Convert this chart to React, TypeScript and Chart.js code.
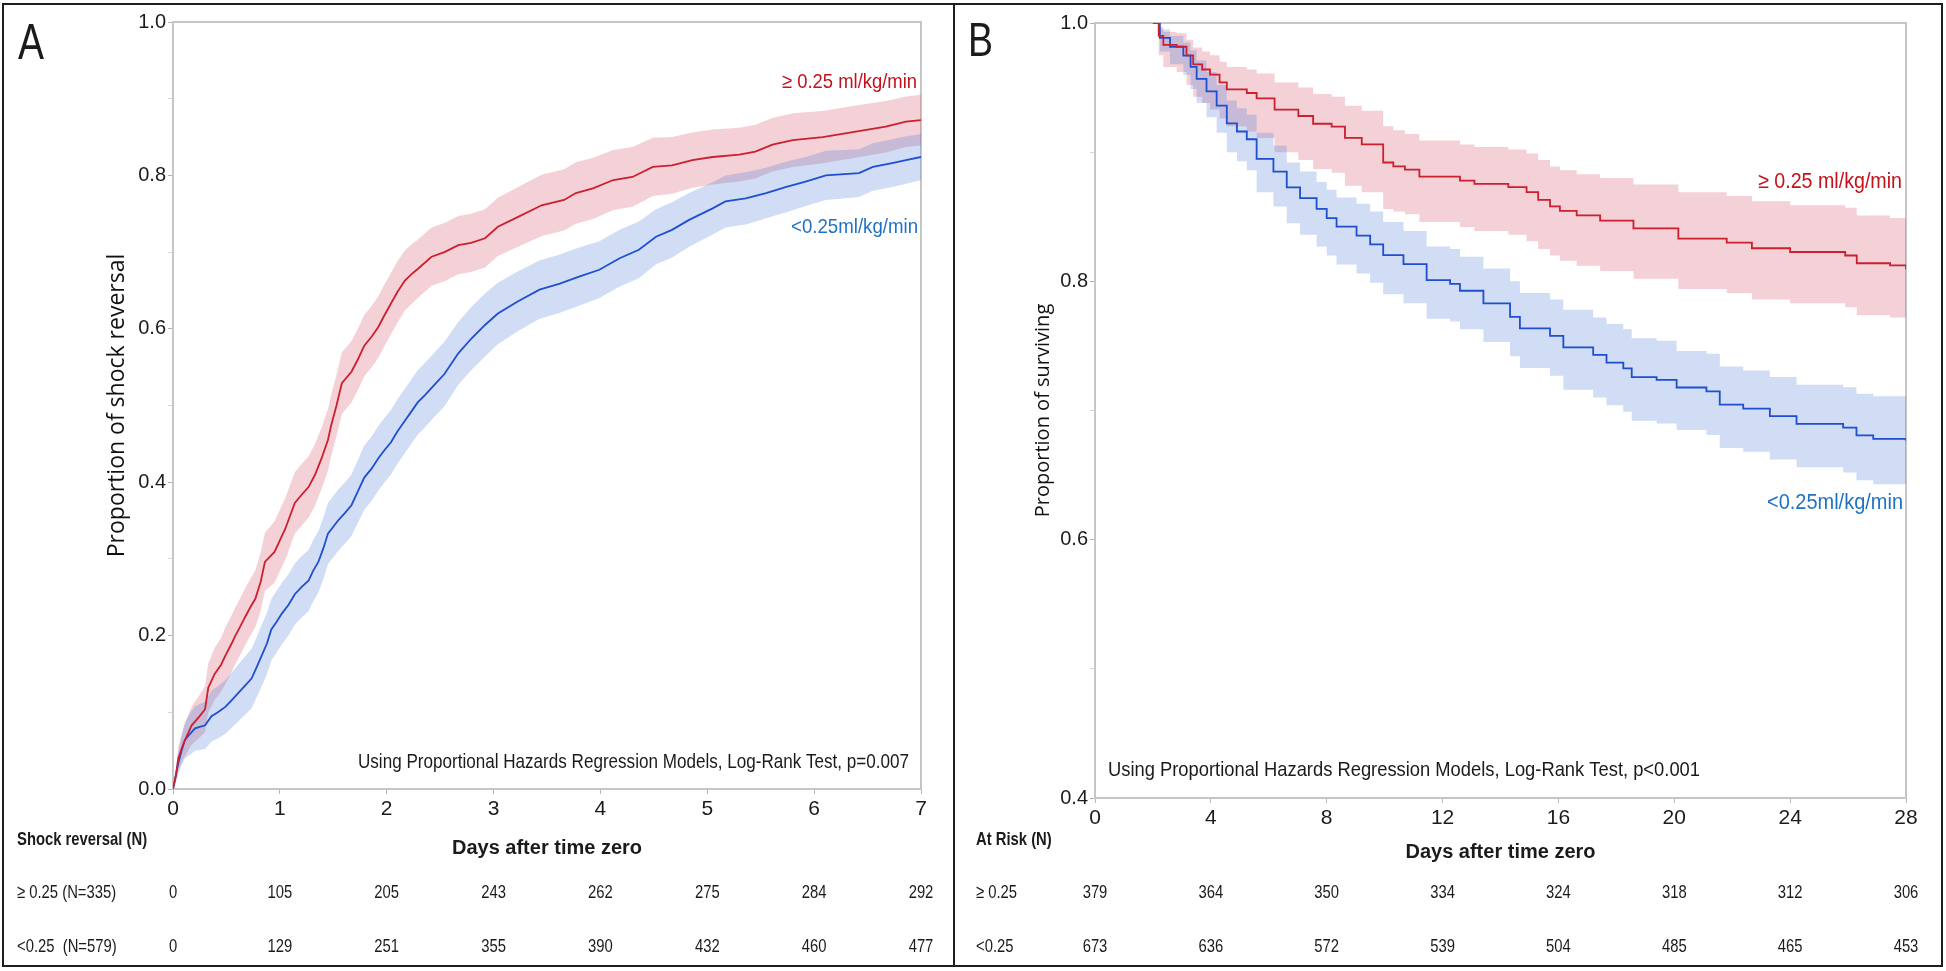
import React, { useEffect, useRef } from "react";
import { Chart, registerables } from "chart.js";

Chart.register(...registerables);

// ---------- Panel A: cumulative shock reversal (days 0-7) ----------
const A_RED_T = [0, 0.03, 0.05, 0.1, 0.175, 0.25, 0.3, 0.33, 0.39, 0.45, 0.49, 0.55, 0.58, 0.63, 0.67, 0.72, 0.77, 0.82, 0.86, 0.95, 1.05, 1.14, 1.2, 1.27, 1.33, 1.39, 1.45, 1.48, 1.53, 1.58, 1.67, 1.73, 1.79, 1.86, 1.92, 1.98, 2.04, 2.1, 2.17, 2.23, 2.29, 2.42, 2.54, 2.67, 2.79, 2.92, 3.04, 3.23, 3.45, 3.66, 3.77, 3.93, 4.12, 4.3, 4.49, 4.67, 4.86, 5.05, 5.3, 5.45, 5.61, 5.8, 6.08, 6.39, 6.67, 6.86, 7.0];
const A_RED_S = [0, 0.02, 0.04, 0.06, 0.083, 0.095, 0.104, 0.132, 0.15, 0.162, 0.174, 0.19, 0.199, 0.212, 0.223, 0.236, 0.248, 0.27, 0.296, 0.309, 0.339, 0.373, 0.383, 0.394, 0.41, 0.431, 0.455, 0.474, 0.5, 0.529, 0.544, 0.56, 0.578, 0.59, 0.602, 0.618, 0.633, 0.648, 0.663, 0.671, 0.678, 0.694, 0.7, 0.709, 0.712, 0.718, 0.733, 0.746, 0.761, 0.768, 0.777, 0.783, 0.794, 0.798, 0.811, 0.813, 0.82, 0.824, 0.827, 0.831, 0.84, 0.846, 0.85, 0.857, 0.8635, 0.87, 0.872];
const A_RED_LO = [0, 0.01, 0.025, 0.04, 0.058, 0.067, 0.074, 0.1, 0.116, 0.127, 0.137, 0.153, 0.162, 0.175, 0.186, 0.199, 0.211, 0.232, 0.258, 0.269, 0.299, 0.333, 0.343, 0.354, 0.37, 0.391, 0.415, 0.434, 0.46, 0.489, 0.504, 0.52, 0.538, 0.55, 0.562, 0.578, 0.593, 0.608, 0.624, 0.632, 0.64, 0.656, 0.662, 0.671, 0.674, 0.68, 0.695, 0.707, 0.721, 0.728, 0.737, 0.743, 0.755, 0.759, 0.773, 0.776, 0.784, 0.788, 0.792, 0.796, 0.805, 0.811, 0.816, 0.823, 0.83, 0.837, 0.839];
const A_RED_HI = [0, 0.03, 0.055, 0.08, 0.108, 0.123, 0.134, 0.164, 0.184, 0.197, 0.211, 0.227, 0.236, 0.249, 0.26, 0.273, 0.285, 0.308, 0.334, 0.349, 0.379, 0.413, 0.423, 0.434, 0.45, 0.471, 0.495, 0.514, 0.54, 0.569, 0.584, 0.6, 0.618, 0.63, 0.642, 0.658, 0.673, 0.688, 0.702, 0.71, 0.716, 0.732, 0.738, 0.747, 0.75, 0.756, 0.771, 0.785, 0.801, 0.808, 0.817, 0.823, 0.833, 0.837, 0.849, 0.85, 0.856, 0.86, 0.862, 0.866, 0.875, 0.881, 0.884, 0.891, 0.897, 0.903, 0.905];

const A_BLUE_T = [0, 0.03, 0.05, 0.08, 0.112, 0.16, 0.206, 0.3, 0.36, 0.42, 0.49, 0.55, 0.61, 0.67, 0.735, 0.78, 0.83, 0.88, 0.92, 0.97, 1.02, 1.08, 1.14, 1.2, 1.27, 1.31, 1.36, 1.41, 1.45, 1.5, 1.55, 1.61, 1.67, 1.73, 1.79, 1.86, 1.92, 1.98, 2.04, 2.1, 2.17, 2.23, 2.29, 2.36, 2.42, 2.54, 2.67, 2.79, 2.92, 3.04, 3.23, 3.43, 3.62, 3.8, 3.99, 4.18, 4.36, 4.52, 4.67, 4.83, 5.05, 5.17, 5.36, 5.55, 5.74, 5.92, 6.11, 6.42, 6.55, 6.73, 6.86, 7.0];
const A_BLUE_S = [0, 0.02, 0.034, 0.05, 0.064, 0.072, 0.079, 0.083, 0.095, 0.1, 0.107, 0.116, 0.125, 0.134, 0.144, 0.158, 0.174, 0.19, 0.208, 0.218, 0.229, 0.24, 0.254, 0.263, 0.272, 0.284, 0.296, 0.315, 0.333, 0.342, 0.351, 0.36, 0.37, 0.388, 0.406, 0.418, 0.431, 0.442, 0.452, 0.466, 0.48, 0.492, 0.504, 0.514, 0.523, 0.541, 0.568, 0.587, 0.605, 0.62, 0.636, 0.651, 0.659, 0.668, 0.677, 0.692, 0.703, 0.72, 0.729, 0.742, 0.757, 0.766, 0.77, 0.777, 0.785, 0.792, 0.8, 0.803, 0.811, 0.816, 0.82, 0.824];
const A_BLUE_LO = [0, 0.01, 0.02, 0.03, 0.04, 0.045, 0.05, 0.052, 0.062, 0.066, 0.072, 0.08, 0.088, 0.096, 0.105, 0.119, 0.134, 0.15, 0.168, 0.178, 0.189, 0.2, 0.214, 0.223, 0.232, 0.244, 0.256, 0.275, 0.293, 0.302, 0.311, 0.32, 0.33, 0.347, 0.364, 0.376, 0.389, 0.4, 0.41, 0.424, 0.438, 0.45, 0.462, 0.472, 0.481, 0.499, 0.527, 0.546, 0.564, 0.58, 0.597, 0.613, 0.621, 0.63, 0.64, 0.655, 0.666, 0.684, 0.693, 0.707, 0.723, 0.732, 0.736, 0.744, 0.752, 0.76, 0.768, 0.772, 0.78, 0.785, 0.789, 0.794];
const A_BLUE_HI = [0, 0.03, 0.048, 0.07, 0.088, 0.099, 0.108, 0.114, 0.128, 0.134, 0.142, 0.152, 0.162, 0.172, 0.183, 0.197, 0.214, 0.23, 0.248, 0.258, 0.269, 0.28, 0.294, 0.303, 0.312, 0.324, 0.336, 0.355, 0.373, 0.382, 0.391, 0.4, 0.41, 0.429, 0.448, 0.46, 0.473, 0.484, 0.494, 0.508, 0.522, 0.534, 0.546, 0.556, 0.565, 0.583, 0.609, 0.628, 0.646, 0.66, 0.675, 0.689, 0.697, 0.706, 0.714, 0.729, 0.74, 0.756, 0.765, 0.777, 0.791, 0.8, 0.804, 0.81, 0.818, 0.824, 0.832, 0.834, 0.842, 0.847, 0.851, 0.854];

const A_DAY_TICKS = [0, 1, 2, 3, 4, 5, 6, 7];
const A_RISK_HIGH = [0, 105, 205, 243, 262, 275, 284, 292];
const A_RISK_LOW = [0, 129, 251, 355, 390, 432, 460, 477];

// ---------- Panel B: survival (days 0-28) ----------
const B_RED_T = [2.0, 2.2, 2.36, 2.82, 3.16, 3.39, 3.7, 3.97, 4.3, 4.55, 5.24, 5.58, 6.2, 7.02, 7.53, 8.17, 8.63, 9.21, 9.95, 10.3, 10.7, 11.2, 12.6, 13.1, 14.27, 14.9, 15.3, 15.71, 16.05, 16.63, 17.44, 18.59, 20.14, 21.81, 22.68, 24.0, 25.9, 26.3, 27.45, 28.0];
const B_RED_S = [1.0, 0.99, 0.983, 0.9816, 0.975, 0.968, 0.964, 0.96, 0.954, 0.9486, 0.9458, 0.9416, 0.933, 0.928, 0.922, 0.9197, 0.911, 0.906, 0.892, 0.889, 0.8865, 0.881, 0.878, 0.8755, 0.873, 0.869, 0.863, 0.858, 0.8546, 0.851, 0.847, 0.841, 0.833, 0.83, 0.8256, 0.8227, 0.82, 0.814, 0.8124, 0.8094];
const B_RED_LO = [1.0, 0.975, 0.966, 0.962, 0.952, 0.943, 0.938, 0.933, 0.926, 0.92, 0.916, 0.911, 0.9, 0.894, 0.887, 0.884, 0.874, 0.869, 0.856, 0.854, 0.852, 0.846, 0.842, 0.839, 0.836, 0.831, 0.825, 0.82, 0.816, 0.812, 0.808, 0.802, 0.794, 0.791, 0.786, 0.783, 0.78, 0.774, 0.772, 0.768];
const B_RED_HI = [1.0, 0.997, 0.993, 0.992, 0.987, 0.981, 0.978, 0.975, 0.97, 0.966, 0.964, 0.961, 0.954, 0.95, 0.945, 0.943, 0.936, 0.932, 0.92, 0.917, 0.914, 0.909, 0.906, 0.904, 0.902, 0.899, 0.894, 0.889, 0.886, 0.883, 0.88, 0.875, 0.869, 0.866, 0.862, 0.859, 0.857, 0.851, 0.849, 0.846];

const B_BLUE_T = [2.0, 2.24, 2.59, 3.05, 3.3, 3.51, 3.85, 4.2, 4.55, 4.9, 5.24, 5.58, 6.16, 6.62, 7.08, 7.65, 8.0, 8.34, 9.03, 9.5, 9.95, 10.65, 11.45, 12.26, 12.6, 13.41, 14.33, 14.67, 15.71, 16.17, 17.2, 17.66, 18.24, 18.53, 19.39, 20.08, 21.11, 21.57, 22.38, 23.3, 24.22, 25.83, 26.29, 26.87, 28.0];
const B_BLUE_S = [1.0, 0.9885, 0.9816, 0.9748, 0.966, 0.9568, 0.947, 0.936, 0.9223, 0.916, 0.91, 0.8948, 0.885, 0.8727, 0.8644, 0.8561, 0.849, 0.8424, 0.8354, 0.8286, 0.8203, 0.8134, 0.801, 0.798, 0.7927, 0.783, 0.7725, 0.7636, 0.7577, 0.7488, 0.743, 0.737, 0.7326, 0.7258, 0.7237, 0.7178, 0.7148, 0.7045, 0.7015, 0.6957, 0.6897, 0.6868, 0.6808, 0.678, 0.6765];
const B_BLUE_LO = [1.0, 0.978, 0.968, 0.96, 0.949, 0.938, 0.927, 0.915, 0.9, 0.893, 0.886, 0.869, 0.858, 0.845, 0.836, 0.827, 0.82, 0.813, 0.806, 0.799, 0.79, 0.783, 0.771, 0.769, 0.763, 0.753, 0.742, 0.733, 0.727, 0.716, 0.71, 0.704, 0.699, 0.692, 0.69, 0.685, 0.681, 0.671, 0.668, 0.662, 0.656, 0.652, 0.646, 0.643, 0.641];
const B_BLUE_HI = [1.0, 0.995, 0.99, 0.985, 0.979, 0.971, 0.962, 0.952, 0.94, 0.934, 0.929, 0.915, 0.905, 0.892, 0.885, 0.877, 0.871, 0.865, 0.86, 0.854, 0.846, 0.839, 0.827, 0.825, 0.819, 0.81, 0.8, 0.791, 0.786, 0.778, 0.772, 0.767, 0.763, 0.756, 0.754, 0.746, 0.744, 0.734, 0.731, 0.726, 0.72, 0.718, 0.713, 0.711, 0.71];

const B_DAY_TICKS = [0, 4, 8, 12, 16, 20, 24, 28];
const B_RISK_HIGH = [379, 364, 350, 334, 324, 318, 312, 306];
const B_RISK_LOW = [673, 636, 572, 539, 504, 485, 465, 453];

// ---------- styles ----------
const SANS = '"Liberation Sans", Arial, sans-serif';
const TITLE_FONT = '"Open Sans", "Noto Sans", sans-serif';
const RED = "#cc1f30";
const BLUE = "#1f4fd0";
const RED_TXT = "#c4111c";
const BLUE_TXT = "#1f72c4";
const RED_FILL = "rgba(211,71,91,0.25)";
const BLUE_FILL = "rgba(67,119,215,0.25)";
const AXIS = "#c6c6c6";
const INK = "#1b1b1b";
const SQUEEZE = 0.78;

type Txt = { text: string; x: number; y: number; font: string; color: string; maxWidth?: number };

type Spec = {
  W: number; H: number;
  area: { left: number; top: number; right: number; bottom: number };
  xMax: number; xStep: number; yMin: number; stepped: boolean;
  red: number[][]; blue: number[][];
  yTitle: string; yTitleSize: number; yTitleCenter: number;
  xTitleCenterY: number;
  texts: Txt[];
  table: { header: string; labelX: number; rows: { label: string; values: number[]; y: number }[]; headerY: number; ticks: number[] };
};

function condensed(ctx: CanvasRenderingContext2D, text: string, x: number, y: number, align: CanvasTextAlign) {
  ctx.save();
  ctx.translate(x, y);
  ctx.scale(SQUEEZE, 1);
  ctx.textAlign = align;
  ctx.fillText(text, 0, 0);
  ctx.restore();
}

function makeChart(canvas: HTMLCanvasElement, s: Spec) {
  const xy = (t: number[], v: number[]) => t.map((x, i) => ({ x, y: v[i] }));
  const line = (label: string, t: number[], v: number[], color: string) => ({
    label, data: xy(t, v), borderColor: color, borderWidth: 1.8, pointRadius: 0, pointHoverRadius: 0, stepped: s.stepped, tension: 0, fill: false,
  });
  const band = (label: string, t: number[], v: number[], color: string, fill: any) => ({
    label, data: xy(t, v), borderColor: "rgba(0,0,0,0)", borderWidth: 0, backgroundColor: color, pointRadius: 0, pointHoverRadius: 0, stepped: s.stepped, tension: 0, fill,
  });
  const [rt, rs, rlo, rhi] = s.red;
  const [bt, bs, blo, bhi] = s.blue;

  const decor = {
    id: "decor",
    beforeDatasetsDraw(chart: any) {
      const { ctx, chartArea: a } = chart;
      ctx.save();
      ctx.strokeStyle = AXIS;
      ctx.lineWidth = 2;
      ctx.beginPath();
      ctx.moveTo(a.left, a.top);
      ctx.lineTo(a.right, a.top);
      ctx.lineTo(a.right, a.bottom);
      ctx.stroke();
      ctx.restore();
    },
    afterDraw(chart: any) {
      const ctx = chart.ctx as CanvasRenderingContext2D;
      ctx.save();
      ctx.textBaseline = "middle";
      for (const t of s.texts) {
        ctx.font = t.font;
        ctx.fillStyle = t.color;
        ctx.textAlign = "left";
        if (t.maxWidth) ctx.fillText(t.text, t.x, t.y, t.maxWidth);
        else ctx.fillText(t.text, t.x, t.y);
      }
      const xs = chart.scales.x;
      ctx.fillStyle = INK;
      ctx.font = `bold 19px ${SANS}`;
      condensed(ctx, s.table.header, s.table.labelX, s.table.headerY, "left");
      ctx.font = `19px ${SANS}`;
      for (const row of s.table.rows) {
        condensed(ctx, row.label, s.table.labelX, row.y, "left");
        row.values.forEach((v, i) => {
          condensed(ctx, String(v), xs.getPixelForValue(s.table.ticks[i]), row.y, "center");
        });
      }
      ctx.restore();
    },
  };

  const isMajorY = (v: number) => Math.round(v * 10) % 2 === 0;

  return new Chart(canvas, {
    type: "line",
    data: {
      datasets: [
        line("≥ 0.25 ml/kg/min", rt, rs, RED),
        line("<0.25ml/kg/min", bt, bs, BLUE),
        band("<0.25 upper", bt, bhi, BLUE_FILL, "+1"),
        band("<0.25 lower", bt, blo, BLUE_FILL, false),
        band("≥ 0.25 upper", rt, rhi, RED_FILL, "+1"),
        band("≥ 0.25 lower", rt, rlo, RED_FILL, false),
      ] as any,
    },
    options: {
      responsive: false,
      animation: false,
      events: [],
      layout: { padding: { left: 0, top: s.area.top, right: s.W - s.area.right, bottom: 0 } },
      plugins: { legend: { display: false }, tooltip: { enabled: false } },
      scales: {
        x: {
          type: "linear",
          min: 0,
          max: s.xMax,
          ticks: { stepSize: s.xStep, autoSkip: false, maxRotation: 0, padding: 3, color: INK, font: { family: SANS, size: 21 } },
          grid: { display: true, drawOnChartArea: false, drawTicks: true, tickLength: 5, tickColor: "#b8b8b8" },
          border: { display: true, color: AXIS, width: 2 },
          title: {
            display: true, text: "Days after time zero", color: INK,
            font: { family: SANS, size: 20, weight: "bold" },
            padding: { top: 0, bottom: s.H - s.xTitleCenterY - 12 },
          },
          afterFit: (sc: any) => { sc.height = s.H - s.area.bottom; },
        },
        y: {
          type: "linear",
          min: s.yMin,
          max: 1.0,
          ticks: {
            stepSize: 0.1, autoSkip: false, padding: 2, color: INK, font: { family: SANS, size: 20 },
            callback: (v: any) => (isMajorY(Number(v)) ? (Math.round(Number(v) * 10) / 10).toFixed(1) : ""),
          },
          grid: {
            display: true, drawOnChartArea: false, drawTicks: true, tickLength: 5,
            tickColor: (c: any) => (c.tick && isMajorY(c.tick.value) ? "#b0b0b0" : "#d6d6d6"),
          },
          border: { display: true, color: AXIS, width: 2 },
          title: {
            display: true, text: s.yTitle, color: "#111",
            font: { family: TITLE_FONT, size: s.yTitleSize },
            padding: { top: s.yTitleCenter - (s.yTitleSize * 1.2) / 2, bottom: 0 },
          },
          afterFit: (sc: any) => { sc.width = s.area.left; },
        },
      },
    } as any,
    plugins: [decor],
  });
}

const SPEC_A: Spec = {
  W: 949, H: 960,
  area: { left: 169, top: 17, right: 917, bottom: 784 },
  xMax: 7, xStep: 1, yMin: 0, stepped: false,
  red: [A_RED_T, A_RED_S, A_RED_LO, A_RED_HI],
  blue: [A_BLUE_T, A_BLUE_S, A_BLUE_LO, A_BLUE_HI],
  yTitle: "Proportion of shock reversal", yTitleSize: 23, yTitleCenter: 113,
  xTitleCenterY: 843,
  texts: [
    { text: "A", x: 14, y: 40, font: `50px ${SANS}`, color: INK, maxWidth: 26 },
    { text: "≥ 0.25 ml/kg/min", x: 778, y: 77, font: `21px ${SANS}`, color: RED_TXT, maxWidth: 135 },
    { text: "<0.25ml/kg/min", x: 787, y: 222, font: `21px ${SANS}`, color: BLUE_TXT, maxWidth: 127 },
    { text: "Using Proportional Hazards Regression Models, Log-Rank Test, p=0.007", x: 354, y: 757, font: `21px ${SANS}`, color: INK, maxWidth: 551 },
  ],
  table: {
    header: "Shock reversal (N)", labelX: 13, headerY: 835, ticks: A_DAY_TICKS,
    rows: [
      { label: "≥ 0.25 (N=335)", values: A_RISK_HIGH, y: 888 },
      { label: "<0.25  (N=579)", values: A_RISK_LOW, y: 942 },
    ],
  },
};

const SPEC_B: Spec = {
  W: 986, H: 960,
  area: { left: 140, top: 18, right: 951, bottom: 793 },
  xMax: 28, xStep: 4, yMin: 0.4, stepped: true,
  red: [B_RED_T, B_RED_S, B_RED_LO, B_RED_HI],
  blue: [B_BLUE_T, B_BLUE_S, B_BLUE_LO, B_BLUE_HI],
  yTitle: "Proportion of surviving", yTitleSize: 20, yTitleCenter: 88,
  xTitleCenterY: 847,
  texts: [
    { text: "B", x: 13, y: 38, font: `48px ${SANS}`, color: INK, maxWidth: 25 },
    { text: "≥ 0.25 ml/kg/min", x: 803, y: 177, font: `22px ${SANS}`, color: RED_TXT, maxWidth: 144 },
    { text: "<0.25ml/kg/min", x: 812, y: 498, font: `22px ${SANS}`, color: BLUE_TXT, maxWidth: 136 },
    { text: "Using Proportional Hazards Regression Models, Log-Rank Test, p<0.001", x: 153, y: 765, font: `21px ${SANS}`, color: INK, maxWidth: 592 },
  ],
  table: {
    header: "At Risk (N)", labelX: 21, headerY: 835, ticks: B_DAY_TICKS,
    rows: [
      { label: "≥ 0.25", values: B_RISK_HIGH, y: 888 },
      { label: "<0.25", values: B_RISK_LOW, y: 942 },
    ],
  },
};

function Panel({ spec, left }: { spec: Spec; left: number }) {
  const ref = useRef<HTMLCanvasElement | null>(null);
  useEffect(() => {
    if (!ref.current) return;
    const chart = makeChart(ref.current, spec);
    return () => chart.destroy();
  }, [spec]);
  return (
    <canvas
      ref={ref}
      width={spec.W}
      height={spec.H}
      style={{ position: "absolute", left, top: 5, width: spec.W, height: spec.H }}
    />
  );
}

export default function App() {
  return (
    <div style={{ position: "absolute", left: 0, top: 0, width: 1946, height: 971, background: "#fff", overflow: "hidden" }}>
      <div style={{ position: "absolute", left: 2, top: 3, width: 1941, height: 964, border: "2px solid #1e1e1e", boxSizing: "border-box" }} />
      <div style={{ position: "absolute", left: 953, top: 3, width: 2, height: 964, background: "#1e1e1e" }} />
      <Panel spec={SPEC_A} left={4} />
      <Panel spec={SPEC_B} left={955} />
    </div>
  );
}
